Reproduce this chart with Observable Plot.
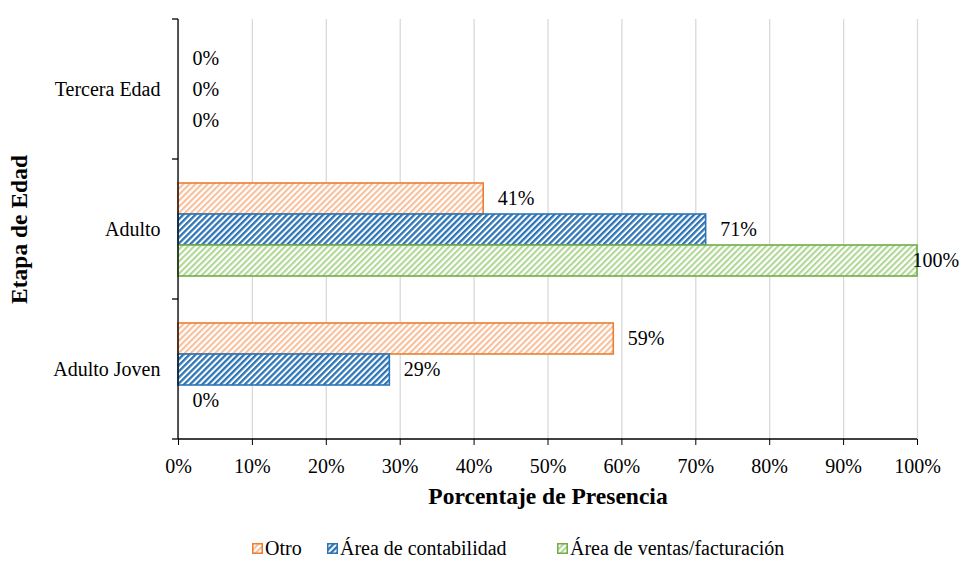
<!DOCTYPE html>
<html><head><meta charset="utf-8">
<script src="https://cdn.jsdelivr.net/npm/d3@7"></script>
<script src="https://cdn.jsdelivr.net/npm/@observablehq/plot@0.6"></script>
<style>
body{margin:0;background:#fff;font-family:"Liberation Serif","Times New Roman",serif;}
#legend{display:flex;margin-left:252px;margin-top:15px;font-size:20px;color:#000;line-height:22px;}
.item{display:flex;align-items:center;}
.item svg{margin-right:2px;}
</style></head><body><div id="chart"></div><div id="legend"></div>
<script>
const categories = ["Tercera Edad", "Adulto", "Adulto Joven"];
const series = ["Otro", "Área de contabilidad", "Área de ventas/facturación"];
const otro = [0, 0.413, 0.589];
const contabilidad = [0, 0.714, 0.286];
const ventas = [0, 1.0, 0];
const xTicks = [0, 0.1, 0.2, 0.3, 0.4, 0.5, 0.6, 0.7, 0.8, 0.9, 1.0];
const strokeColors = ["#ED7D31", "#2E75B6", "#70AD47"];
const stripeColors = ["#F6C09C", "#2E75B6", "#B0D796"];
const legendWidths = ["75px", "230px", "auto"];

const values = [otro, contabilidad, ventas];
const rows = [];
categories.forEach((c, ci) => series.forEach((s, si) => rows.push({category: c, series: s, si, value: values[si][ci]})));
const fmt = d3.format(".0%");

const barMarks = series.map((s, si) => Plot.barX(rows.filter(d => d.si === si && d.value > 0), {
  x: "value", y: "series", fy: "category",
  fill: `url(#pat${si})`, stroke: strokeColors[si], strokeWidth: 1.6
}));

const plot = Plot.plot({
  width: 962, height: 522,
  marginLeft: 178, marginRight: 45, marginTop: 18, marginBottom: 82,
  style: "font-family: 'Liberation Serif', 'Times New Roman', serif; font-size: 20px; color: #000; background: #fff;",
  x: {domain: [0, 1]},
  y: {domain: series, paddingInner: 0, paddingOuter: 0.74, axis: null},
  fy: {domain: categories, padding: 0},
  marks: [
    Plot.gridX(xTicks, {stroke: "#d9d9d9", strokeOpacity: 1, strokeWidth: 1.3}),
    ...barMarks,
    Plot.text(rows.filter(d => d.value < 1), {x: "value", y: "series", fy: "category", text: d => fmt(d.value), dx: 14, textAnchor: "start", fill: "#000"}),
    Plot.text(rows.filter(d => d.value >= 1), {x: "value", y: "series", fy: "category", text: d => fmt(d.value), dx: -5, textAnchor: "start", fill: "#000"}),
    Plot.axisX({ticks: xTicks, tickFormat: fmt, tickSize: 6, tickPadding: 13, stroke: "#000", label: "Porcentaje de Presencia", labelAnchor: "center", labelOffset: 64}),
    Plot.axisFy({anchor: "left", tickSize: 0, tickPadding: 18, label: "Etapa de Edad", labelAnchor: "center", labelOffset: 168})
  ]
});

const svg = d3.select(plot);
const defs = svg.insert("defs", ":first-child");
stripeColors.forEach((c, i) => {
  const w = 4.3;
  const sw = i === 1 ? 2.3 : 2.1;
  const p = defs.append("pattern").attr("id", "pat" + i).attr("patternUnits", "userSpaceOnUse")
    .attr("width", w).attr("height", w).attr("patternTransform", "rotate(45)");
  p.append("rect").attr("width", w).attr("height", w).attr("fill", "#fff");
  p.append("rect").attr("width", sw).attr("height", w).attr("fill", c);
});

// axis titles styling (no arrow)
svg.selectAll('[aria-label="x-axis label"] text').text("Porcentaje de Presencia");
svg.selectAll('[aria-label="fy-axis label"] text').text("Etapa de Edad");
svg.selectAll('[aria-label="x-axis label"] text, [aria-label="fy-axis label"] text')
  .attr("font-weight", "bold").attr("font-size", "23.5px").attr("fill", "#000");

// axis lines and category boundary ticks, positioned with Plot's own scales
const xs = plot.scale("x"), fys = plot.scale("fy");
const x0 = xs.apply(0), x1 = xs.apply(1);
const bw = fys.bandwidth;
const bounds = categories.map(c => fys.apply(c));
bounds.push(fys.apply(categories[categories.length - 1]) + bw);
const g = svg.append("g").attr("stroke", "#000").attr("stroke-width", 1.3);
bounds.forEach(y => g.append("line").attr("x1", x0 - 6).attr("x2", x0).attr("y1", y).attr("y2", y));
g.append("line").attr("x1", x0).attr("x2", x1).attr("y1", bounds[bounds.length - 1]).attr("y2", bounds[bounds.length - 1]);
g.append("line").attr("x1", x0).attr("x2", x0).attr("y1", bounds[0]).attr("y2", bounds[bounds.length - 1]);

document.getElementById("chart").appendChild(plot);

const legend = d3.select("#legend");
series.forEach((s, i) => {
  const item = legend.append("div").attr("class", "item").style("width", legendWidths[i]);
  const sv = item.append("svg").attr("width", 11).attr("height", 11);
  sv.append("rect").attr("x", 0.75).attr("y", 0.75).attr("width", 9.5).attr("height", 9.5)
    .attr("fill", `url(#pat${i})`).attr("stroke", strokeColors[i]).attr("stroke-width", 1.5);
  item.append("span").text(s);
});
</script></body></html>
